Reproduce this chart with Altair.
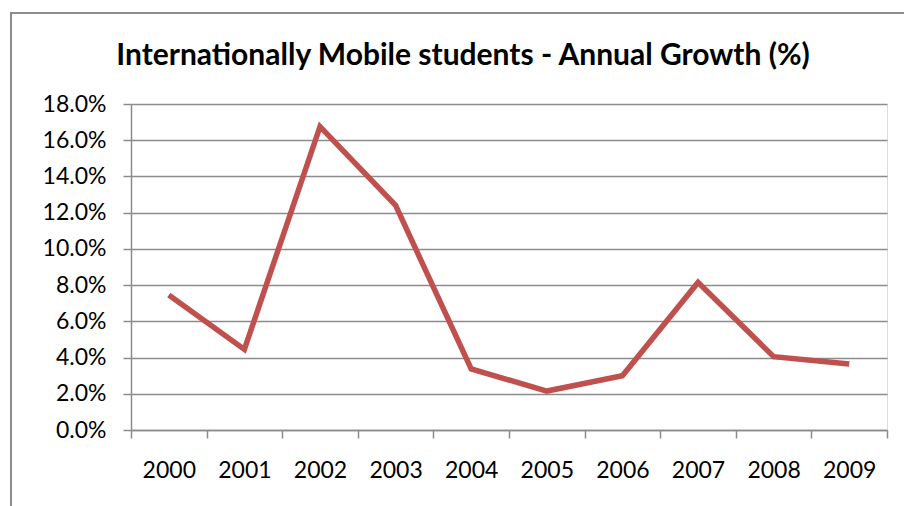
import altair as alt
import pandas as pd

years = ["2000", "2001", "2002", "2003", "2004", "2005", "2006", "2007", "2008", "2009"]
growth = [0.0745, 0.0445, 0.1675, 0.124, 0.0337, 0.0215, 0.030, 0.0815, 0.0405, 0.0365]
y_ticks = [0.0, 0.02, 0.04, 0.06, 0.08, 0.10, 0.12, 0.14, 0.16, 0.18]
title_text = "Internationally Mobile students - Annual Growth (%)"

df = pd.DataFrame({"year": years, "growth": growth})
one = pd.DataFrame({"t": [title_text]})

FONT = "Lato"
GRID = "#8c8c8c"

line = alt.Chart(df).mark_line(color="#C0504D", strokeWidth=5.5, strokeJoin="miter").encode(
    x=alt.X("year:O", sort=years,
            scale=alt.Scale(paddingInner=0, paddingOuter=0),
            axis=alt.Axis(title=None, labelAngle=0, tickBand="extent", tickSize=8,
                          labelPadding=21, labelFontSize=23, labelFont=FONT, labelColor="#000",
                          domainColor=GRID, tickColor=GRID, domainWidth=1.5, tickWidth=1.5,
                          grid=False)),
    y=alt.Y("growth:Q", scale=alt.Scale(domain=[0, 0.18], nice=False),
            axis=alt.Axis(title=None, values=y_ticks, format=".1%", tickSize=8,
                          labelPadding=17, labelFontSize=23, labelFont=FONT, labelColor="#000",
                          domainColor=GRID, tickColor=GRID, domainWidth=1.5, tickWidth=1.5,
                          grid=True, gridColor=GRID, gridWidth=1.5)),
)

border = alt.Chart(one).mark_rect(fill=None, stroke="#8c8c8c", strokeWidth=2, clip=False).encode(
    x=alt.value(-120), x2=alt.value(820), y=alt.value(-91), y2=alt.value(450)
)

title = alt.Chart(one).mark_text(
    font=FONT, fontSize=30, fontWeight="bold", color="#000",
    align="center", baseline="alphabetic", clip=False
).encode(text="t:N", x=alt.value(332), y=alt.value(-39))

chart = alt.layer(border, line, title).properties(
    width=756, height=326,
    autosize=alt.AutoSizeParams(type="none"),
    padding={"left": 131, "top": 104, "right": 17, "bottom": 76},
).configure_view(stroke=None).configure(background="white")

chart.save("out.html", embed_options={"renderer": "svg", "actions": False})
